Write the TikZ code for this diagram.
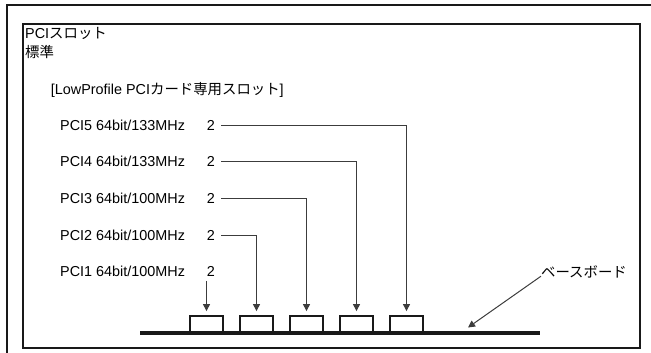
\documentclass[tikz,border=0pt]{standalone}
\usepackage{fontspec}
\setmainfont{Liberation Sans}
\newfontfamily\jp{Noto Sans CJK JP}
\usepackage{xcolor}
\definecolor{colorw}{RGB}{60,60,60}
\definecolor{colorn}{RGB}{25,25,25}
\usepackage{tikz}
\usetikzlibrary{arrows.meta}
\tikzstyle{frame} = [draw=colorn, line width=2pt]
\tikzstyle{pcitext} = [anchor=west, inner sep=0pt, font=\fontsize{14.4}{17}\selectfont]
\tikzstyle{count} = [pcitext, anchor=center, inner xsep=6pt, inner ysep=4pt]
\tikzstyle{slotbox} = [rectangle, draw=colorn, line width=1.8pt, minimum width=33pt, minimum height=16pt, inner sep=0pt]
\tikzstyle{wire} = [draw=colorw, line width=1pt, -{Triangle[length=7pt,width=7pt]}, shorten >=4pt]

\begin{document}
\begin{tikzpicture}[x=1pt,y=-1pt]
  \useasboundingbox (0,0) rectangle (651,353);

  \draw[frame] (7,353) -- (7,5.5) -- (651,5.5);
  \draw[frame] (23.3,24) rectangle (640,348.3);

  \node[pcitext] (title) at (25,33) {PCI{\jp スロット}};
  \node[pcitext] (std) at (25,51.7) {{\jp 標準}};
  \node[pcitext] (lowp) at (50.7,90) {[LowProfile PCI{\jp カード専用スロット}]};

  \foreach \i/\y/\f in {5/125/133,4/161.7/133,3/198.3/100,2/235/100,1/271.7/100}{
    \node[pcitext] (pci\i) at (60,\y) {PCI\i\ 64bit/\f MHz};
    \node[count] (n\i) at (211,\y) {2};
  }

  %slots on the base board
  \foreach \i/\x in {1/206.5,2/256.5,3/306.5,4/356.5,5/406.5}
  \node[slotbox] (slot\i) at (\x,324) {};

  \coordinate (boardl) at (140,333);
  \coordinate (boardr) at (540,333);
  \draw[colorn, line width=3.5pt] (boardl) -- (boardr);

  \draw[wire] (n1.south -| slot1.north) -- (slot1.north);
  \foreach \i in {2,...,5}
  \draw[wire] (n\i.east) -| (slot\i.north);

  \node[pcitext, anchor=center] (base) at (584,271.7) {{\jp ベースボード}};
  \coordinate (basept) at (468,327.5);
  \draw[wire, shorten >=0pt] (base.186) -- (basept);
\end{tikzpicture}
\end{document}
